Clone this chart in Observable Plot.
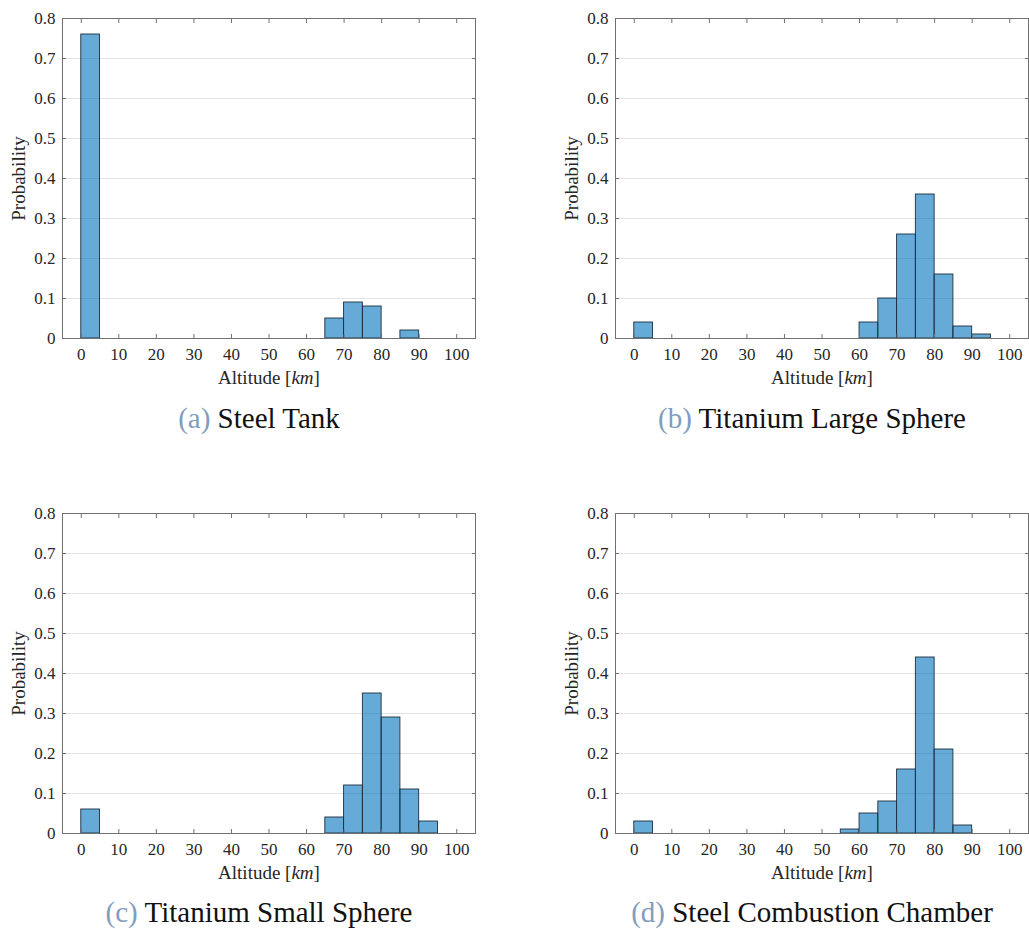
<!DOCTYPE html>
<html><head><meta charset="utf-8">
<script src="https://cdn.jsdelivr.net/npm/d3@7"></script>
<script src="https://cdn.jsdelivr.net/npm/@observablehq/plot@0.6"></script>
<style>
body{margin:0;background:#fff;overflow:hidden}
#root{position:relative;width:1029px;height:929px}
.panel{position:absolute}
.cap{position:absolute;transform:translate(-50%,-50%);white-space:nowrap;font-size:29px;color:#111}
.cap .lab{color:#7f9dbd}
</style></head><body><div id="root"></div>
<script>
// Histogram bins (left edges, km) and bin width
const binStarts = [0,5,10,15,20,25,30,35,40,45,50,55,60,65,70,75,80,85,90,95];
const binWidth = 5;

// Probabilities per bin
const steelTank          = [0.76,0,0,0,0,0,0,0,0,0,0,0,0,0.05,0.09,0.08,0,0.02,0,0];
const titaniumLarge      = [0.04,0,0,0,0,0,0,0,0,0,0,0,0.04,0.10,0.26,0.36,0.16,0.03,0.01,0];
const titaniumSmall      = [0.06,0,0,0,0,0,0,0,0,0,0,0,0,0.04,0.12,0.35,0.29,0.11,0.03,0];
const steelCombustion    = [0.03,0,0,0,0,0,0,0,0,0,0,0.01,0.05,0.08,0.16,0.44,0.21,0.02,0,0];

// Tick values and labels
const xTicks = [0,10,20,30,40,50,60,70,80,90,100];
const yTicks = [0,0.1,0.2,0.3,0.4,0.5,0.6,0.7,0.8];
const yTickLabels = ["0","0.1","0.2","0.3","0.4","0.5","0.6","0.7","0.8"];

const captionLetters = ["(a)","(b)","(c)","(d)"];
const captionTitles = ["Steel Tank","Titanium Large Sphere","Titanium Small Sphere","Steel Combustion Chamber"];
const xLabel = "Altitude [km]";
const yLabel = "Probability";

const FONT = "'Liberation Serif', serif";
const TXT = "#262626";
const AXC = "#707070";

const panels = [
  {values: steelTank,       left: 0,   top: 0,   w: 490, mr: 15, cx: 259, cy: 418},
  {values: titaniumLarge,   left: 553, top: 0,   w: 476, mr: 1,  cx: 812, cy: 418},
  {values: titaniumSmall,   left: 0,   top: 495, w: 490, mr: 15, cx: 259, cy: 912},
  {values: steelCombustion, left: 553, top: 495, w: 476, mr: 1,  cx: 812, cy: 912}
];

const root = document.getElementById("root");

panels.forEach((p, k) => {
  const data = binStarts.map((s, i) => ({x1: s, x2: s + binWidth, p: p.values[i]})).filter(d => d.p > 0);
  const chart = Plot.plot({
    width: p.w, height: 388,
    marginLeft: 62, marginRight: p.mr, marginTop: 18, marginBottom: 50,
    style: {color: TXT, background: "transparent", fontFamily: FONT, fontSize: "17px"},
    x: {domain: [-5, 105]},
    y: {domain: [0, 0.8]},
    marks: [
      Plot.gridY(yTicks.slice(1, -1), {stroke: "#e2e2e2", strokeOpacity: 1}),
      Plot.rectY(data, {x1: "x1", x2: "x2", y: "p", fill: "#0072BD", fillOpacity: 0.6, stroke: "#1f2f3f", strokeWidth: 0.9, inset: 0}),
      Plot.frame({stroke: AXC}),
      Plot.axisX(xTicks, {anchor: "bottom", tickSize: -4, tickPadding: 13, stroke: AXC, fill: TXT, label: null, fontSize: 17}),
      Plot.axisX(xTicks, {anchor: "top", tickSize: -4, tickFormat: () => "", stroke: AXC, label: null}),
      Plot.axisY(yTicks, {anchor: "left", tickSize: -4, tickPadding: 11, stroke: AXC, fill: TXT, label: null, fontSize: 17,
        tickFormat: (d) => yTickLabels[yTicks.indexOf(d)]}),
      Plot.axisY(yTicks, {anchor: "right", tickSize: -4, tickFormat: () => "", stroke: AXC, label: null}),
      Plot.text([yLabel], {frameAnchor: "left", rotate: -90, dx: -44, textAnchor: "middle", lineAnchor: "middle", fill: TXT, fontSize: 19}),
      Plot.text([xLabel], {frameAnchor: "bottom", dy: 39, textAnchor: "middle", lineAnchor: "middle", fill: TXT, fontSize: 19})
    ]
  });
  // italic "km" in x label
  chart.querySelectorAll("text").forEach(t => {
    if (t.textContent === xLabel) {
      t.textContent = "";
      const a = document.createTextNode("Altitude [");
      const s = document.createElementNS("http://www.w3.org/2000/svg", "tspan");
      s.setAttribute("font-style", "italic");
      s.textContent = "km";
      const b = document.createTextNode("]");
      t.appendChild(a); t.appendChild(s); t.appendChild(b);
    }
  });
  const div = document.createElement("div");
  div.className = "panel";
  div.style.left = p.left + "px";
  div.style.top = p.top + "px";
  div.appendChild(chart);
  root.appendChild(div);

  const cap = document.createElement("div");
  cap.className = "cap";
  cap.style.left = p.cx + "px";
  cap.style.top = p.cy + "px";
  cap.style.fontFamily = FONT;
  const lab = document.createElement("span");
  lab.className = "lab";
  lab.textContent = captionLetters[k];
  cap.appendChild(lab);
  cap.appendChild(document.createTextNode(" " + captionTitles[k]));
  root.appendChild(cap);
});
</script>
</body></html>
